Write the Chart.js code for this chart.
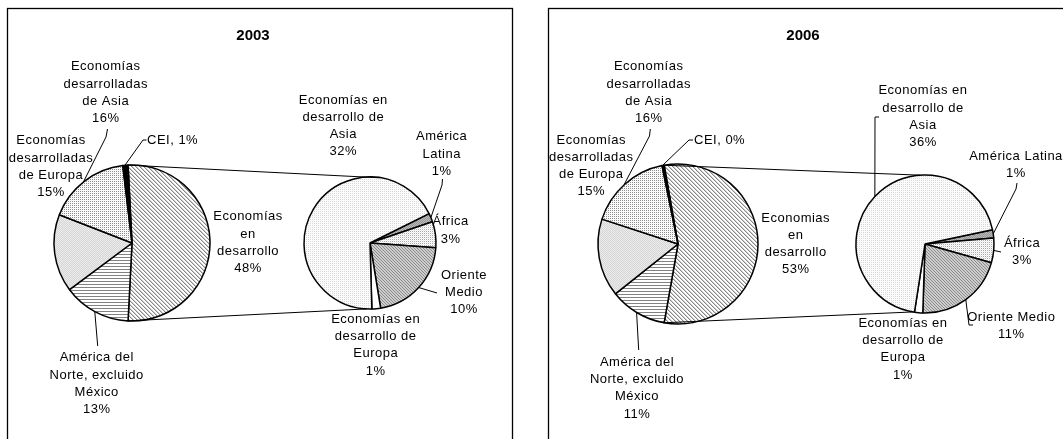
<!DOCTYPE html>
<html><head><meta charset="utf-8">
<script src="https://cdn.jsdelivr.net/npm/chart.js@4/dist/chart.umd.min.js"></script>
<style>
html,body{margin:0;padding:0;background:#fff;}
body{width:1063px;height:439px;overflow:hidden;position:relative;}
canvas.pie{position:absolute;}
#overlay{position:absolute;left:0;top:0;pointer-events:none;}
</style></head><body>
<canvas id="m0" class="pie" width="200" height="200"></canvas>
<canvas id="s0" class="pie" width="180" height="180"></canvas>
<canvas id="m1" class="pie" width="200" height="200"></canvas>
<canvas id="s1" class="pie" width="180" height="180"></canvas>
<canvas id="overlay" width="1063" height="439"></canvas>
<script>
// ---------------- DATA ----------------
const years = ['2003', '2006'];
const mainCategories = ['Economías en desarrollo', 'América del Norte, excluido México', 'Economías desarrolladas de Europa', 'Economías desarrolladas de Asia', 'CEI'];
const main2003 = [48, 13, 15, 16, 1];
const main2006 = [53, 11, 15, 16, 0.4];
const subCategories = ['América Latina', 'África', 'Oriente Medio', 'Economías en desarrollo de Europa', 'Economías en desarrollo de Asia'];
const sub2003 = [1, 3, 10, 1, 32];
const sub2006 = [1, 3, 11, 1, 36];

// ---------------- LAYOUT / STYLE ----------------
const FONT = '13px "Liberation Sans", Arial, sans-serif';
const TITLE_FONT = 'bold 15px "Liberation Sans", Arial, sans-serif';
const LH = 17.3;

const layout = [
  {
    panel: {x: 7, y: 8, w: 505, h: 500}, title: {x: 253, y: 36},
    main: {cx: 131.5, cy: 243, r: 78},
    sub: {cx: 370, cy: 243, r: 66, rotation: 63.5, connTop: 9, connBottom: 183},
    mainLabels: [
      {lines: ['Economías', 'en', 'desarrollo', '{p}'], x: 248, y: 216.7},
      {lines: ['América del', 'Norte, excluido', 'México', '{p}'], x: 96.7, y: 357.7, leader: [[97.7, 346]]},
      {lines: ['Economías', 'desarrolladas', 'de Europa', '{p}'], x: 51, y: 140.7},
      {lines: ['Economías', 'desarrolladas', 'de Asia', '{p}'], x: 105.7, y: 66.7, leader: [[107.5, 129], [106, 137]]},
      {lines: ['CEI, {p}'], x: 147, y: 140, align: 'left', leader: [[146.5, 140], [143, 140]]}
    ],
    subLabels: [
      {lines: ['América', 'Latina', '{p}'], x: 441.7, y: 136.7, leader: [[442.5, 179], [442, 185]]},
      {lines: ['África', '{p}'], x: 450.7, y: 221.7},
      {lines: ['Oriente', 'Medio', '{p}'], x: 464, y: 275, leader: [[437, 293]]},
      {lines: ['Economías en', 'desarrollo de', 'Europa', '{p}'], x: 375.7, y: 319.3},
      {lines: ['Economías en', 'desarrollo de', 'Asia', '{p}'], x: 343.3, y: 100}
    ]
  },
  {
    panel: {x: 548, y: 8, w: 530, h: 500}, title: {x: 803, y: 36},
    main: {cx: 677.5, cy: 244, r: 80},
    sub: {cx: 925, cy: 244, r: 69, rotation: 78, connTop: -4, connBottom: 190},
    mainLabels: [
      {lines: ['Economias', 'en', 'desarrollo', '{p}'], x: 795.7, y: 218},
      {lines: ['América del', 'Norte, excluido', 'México', '{p}'], x: 637, y: 362.3, leader: [[638.7, 350]]},
      {lines: ['Economías', 'desarrolladas', 'de Europa', '{p}'], x: 591.3, y: 140},
      {lines: ['Economías', 'desarrolladas', 'de Asia', '{p}'], x: 648.7, y: 66.7, leader: [[650.3, 129], [649.5, 136]]},
      {lines: ['CEI, {p}'], x: 694, y: 140, align: 'left', leader: [[693, 140], [689, 140]]}
    ],
    subLabels: [
      {lines: ['América Latina', '{p}'], x: 1016, y: 156, leader: [[1017, 183], [1016, 189]]},
      {lines: ['África', '{p}'], x: 1022, y: 243.3, leader: [[1001, 252]]},
      {lines: ['Oriente Medio', '{p}'], x: 1011.3, y: 317.3, leader: [[973, 325], [969, 325]]},
      {lines: ['Economías en', 'desarrollo de', 'Europa', '{p}'], x: 903, y: 323.3},
      {lines: ['Economías en', 'desarrollo de', 'Asia', '{p}'], x: 923, y: 90.7, leader: [[879, 117], [875, 117]]}
    ]
  }
];

// pattern tiles (gray levels)
function tile(w, h, f) {
  const c = document.createElement('canvas'); c.width = w; c.height = h;
  const x = c.getContext('2d'); const img = x.createImageData(w, h);
  for (let j = 0; j < h; j++) for (let i = 0; i < w; i++) {
    const v = f(i, j), k = (j * w + i) * 4;
    img.data[k] = img.data[k + 1] = img.data[k + 2] = v; img.data[k + 3] = 255;
  }
  x.putImageData(img, 0, 0); return c;
}
const tiles = {
  hatch: tile(4, 4, (i, j) => { const d = ((i - j) % 4 + 4) % 4; return d === 0 ? 135 : d === 1 ? 205 : 255; }),
  dots: tile(2, 2, (i, j) => (i === 0 && j === 0) ? 140 : (i === 1 && j === 1 ? 245 : 255)),
  gray: tile(2, 2, (i, j) => ((i + j) % 2 === 0) ? 215 : 235),
  hlines: tile(2, 3, (i, j) => j === 0 ? 130 : 255),
  subAsia: tile(2, 2, (i, j) => (i === 0 && j === 0) ? 215 : (i === 1 && j === 1 ? 250 : 255)),
  amlat: tile(2, 2, (i, j) => ((i + j) % 2 === 0) ? 150 : 185),
  africa: tile(2, 2, (i, j) => (i === 0 && j === 0) ? 170 : (i === 1 && j === 1 ? 235 : 255)),
  om: tile(3, 3, (i, j) => (((i - j) % 3 + 3) % 3 === 0) ? 140 : 205)
};
function fills(ctx, keys) {
  return keys.map(k => k === 'black' ? '#000' : k === 'white' ? '#fff' : ctx.createPattern(tiles[k], 'repeat'));
}
const mainFillKeys = ['hatch', 'hlines', 'gray', 'dots', 'black'];
const subFillKeys = ['amlat', 'africa', 'om', 'white', 'subAsia'];

function makePie(id, labels, values, geom, rotation, fillKeys) {
  const cv = document.getElementById(id);
  cv.style.left = (geom.cx - cv.width / 2) + 'px';
  cv.style.top = (geom.cy - cv.height / 2) + 'px';
  const ctx = cv.getContext('2d');
  return new Chart(ctx, {
    type: 'pie',
    data: {labels: labels, datasets: [{data: values, backgroundColor: fills(ctx, fillKeys), borderColor: '#000', borderWidth: 1.5}]},
    options: {
      responsive: false, animation: false, events: [],
      radius: geom.r, rotation: rotation,
      layout: {padding: 0},
      plugins: {legend: {display: false}, tooltip: {enabled: false}, title: {display: false}}
    }
  });
}

const mainData = [main2003, main2006];
const subData = [sub2003, sub2006];
const charts = [];
for (let p = 0; p < 2; p++) {
  const L = layout[p];
  const md = mainData[p];
  const sum = md.reduce((a, b) => a + b, 0);
  const mainRot = 90 - 180 * md[0] / sum;
  const mc = makePie('m' + p, mainCategories, md, L.main, mainRot, mainFillKeys);
  const sc = makePie('s' + p, subCategories, subData[p], L.sub, L.sub.rotation, subFillKeys);
  charts.push({mc, sc});
}

// ---------------- OVERLAY: titles, labels, leaders, connectors ----------------
const ov = document.getElementById('overlay');
const g = ov.getContext('2d');
function off(chart) { const c = chart.canvas; return [parseFloat(c.style.left), parseFloat(c.style.top)]; }
function rimAt(chart, idx, frac) {
  const arc = chart.getDatasetMeta(0).data[idx];
  const [ox, oy] = off(chart);
  const a = arc.startAngle + (arc.endAngle - arc.startAngle) * frac;
  return [ox + arc.x + arc.outerRadius * Math.cos(a), oy + arc.y + arc.outerRadius * Math.sin(a)];
}
function rimDeg(chart, deg) {
  const arc = chart.getDatasetMeta(0).data[0];
  const [ox, oy] = off(chart);
  const a = (deg - 90) * Math.PI / 180;
  return [ox + arc.x + arc.outerRadius * Math.cos(a), oy + arc.y + arc.outerRadius * Math.sin(a)];
}
function line(pts) {
  g.beginPath(); g.moveTo(pts[0][0], pts[0][1]);
  for (let i = 1; i < pts.length; i++) g.lineTo(pts[i][0], pts[i][1]);
  g.stroke();
}
function drawLabels(chart, values, labels) {
  labels.forEach((lb, i) => {
    const p = Math.round(values[i]) + '%';
    g.textAlign = lb.align || 'center';
    lb.lines.forEach((t, k) => g.fillText(t.replace('{p}', p), lb.x, lb.y + k * LH));
    if (lb.leader) line(lb.leader.concat([rimAt(chart, i, 0.5)]));
  });
}

g.strokeStyle = '#000';
g.fillStyle = '#000';
for (let p = 0; p < 2; p++) {
  const L = layout[p];
  const {mc, sc} = charts[p];
  // panel frame
  g.lineWidth = 1.3;
  g.strokeRect(L.panel.x + 0.5, L.panel.y + 0.5, L.panel.w, L.panel.h);
  // title
  g.font = TITLE_FONT; g.textAlign = 'center'; g.textBaseline = 'middle';
  g.letterSpacing = '0px';
  g.fillText(years[p], L.title.x, L.title.y);
  // connectors
  g.lineWidth = 1;
  line([rimAt(mc, 0, 0), rimDeg(sc, L.sub.connTop)]);
  line([rimAt(mc, 0, 1), rimDeg(sc, L.sub.connBottom)]);
  // labels
  g.font = FONT; g.letterSpacing = '0.5px';
  drawLabels(mc, mainData[p], L.mainLabels);
  drawLabels(sc, subData[p], L.subLabels);
}
</script>
</body></html>
